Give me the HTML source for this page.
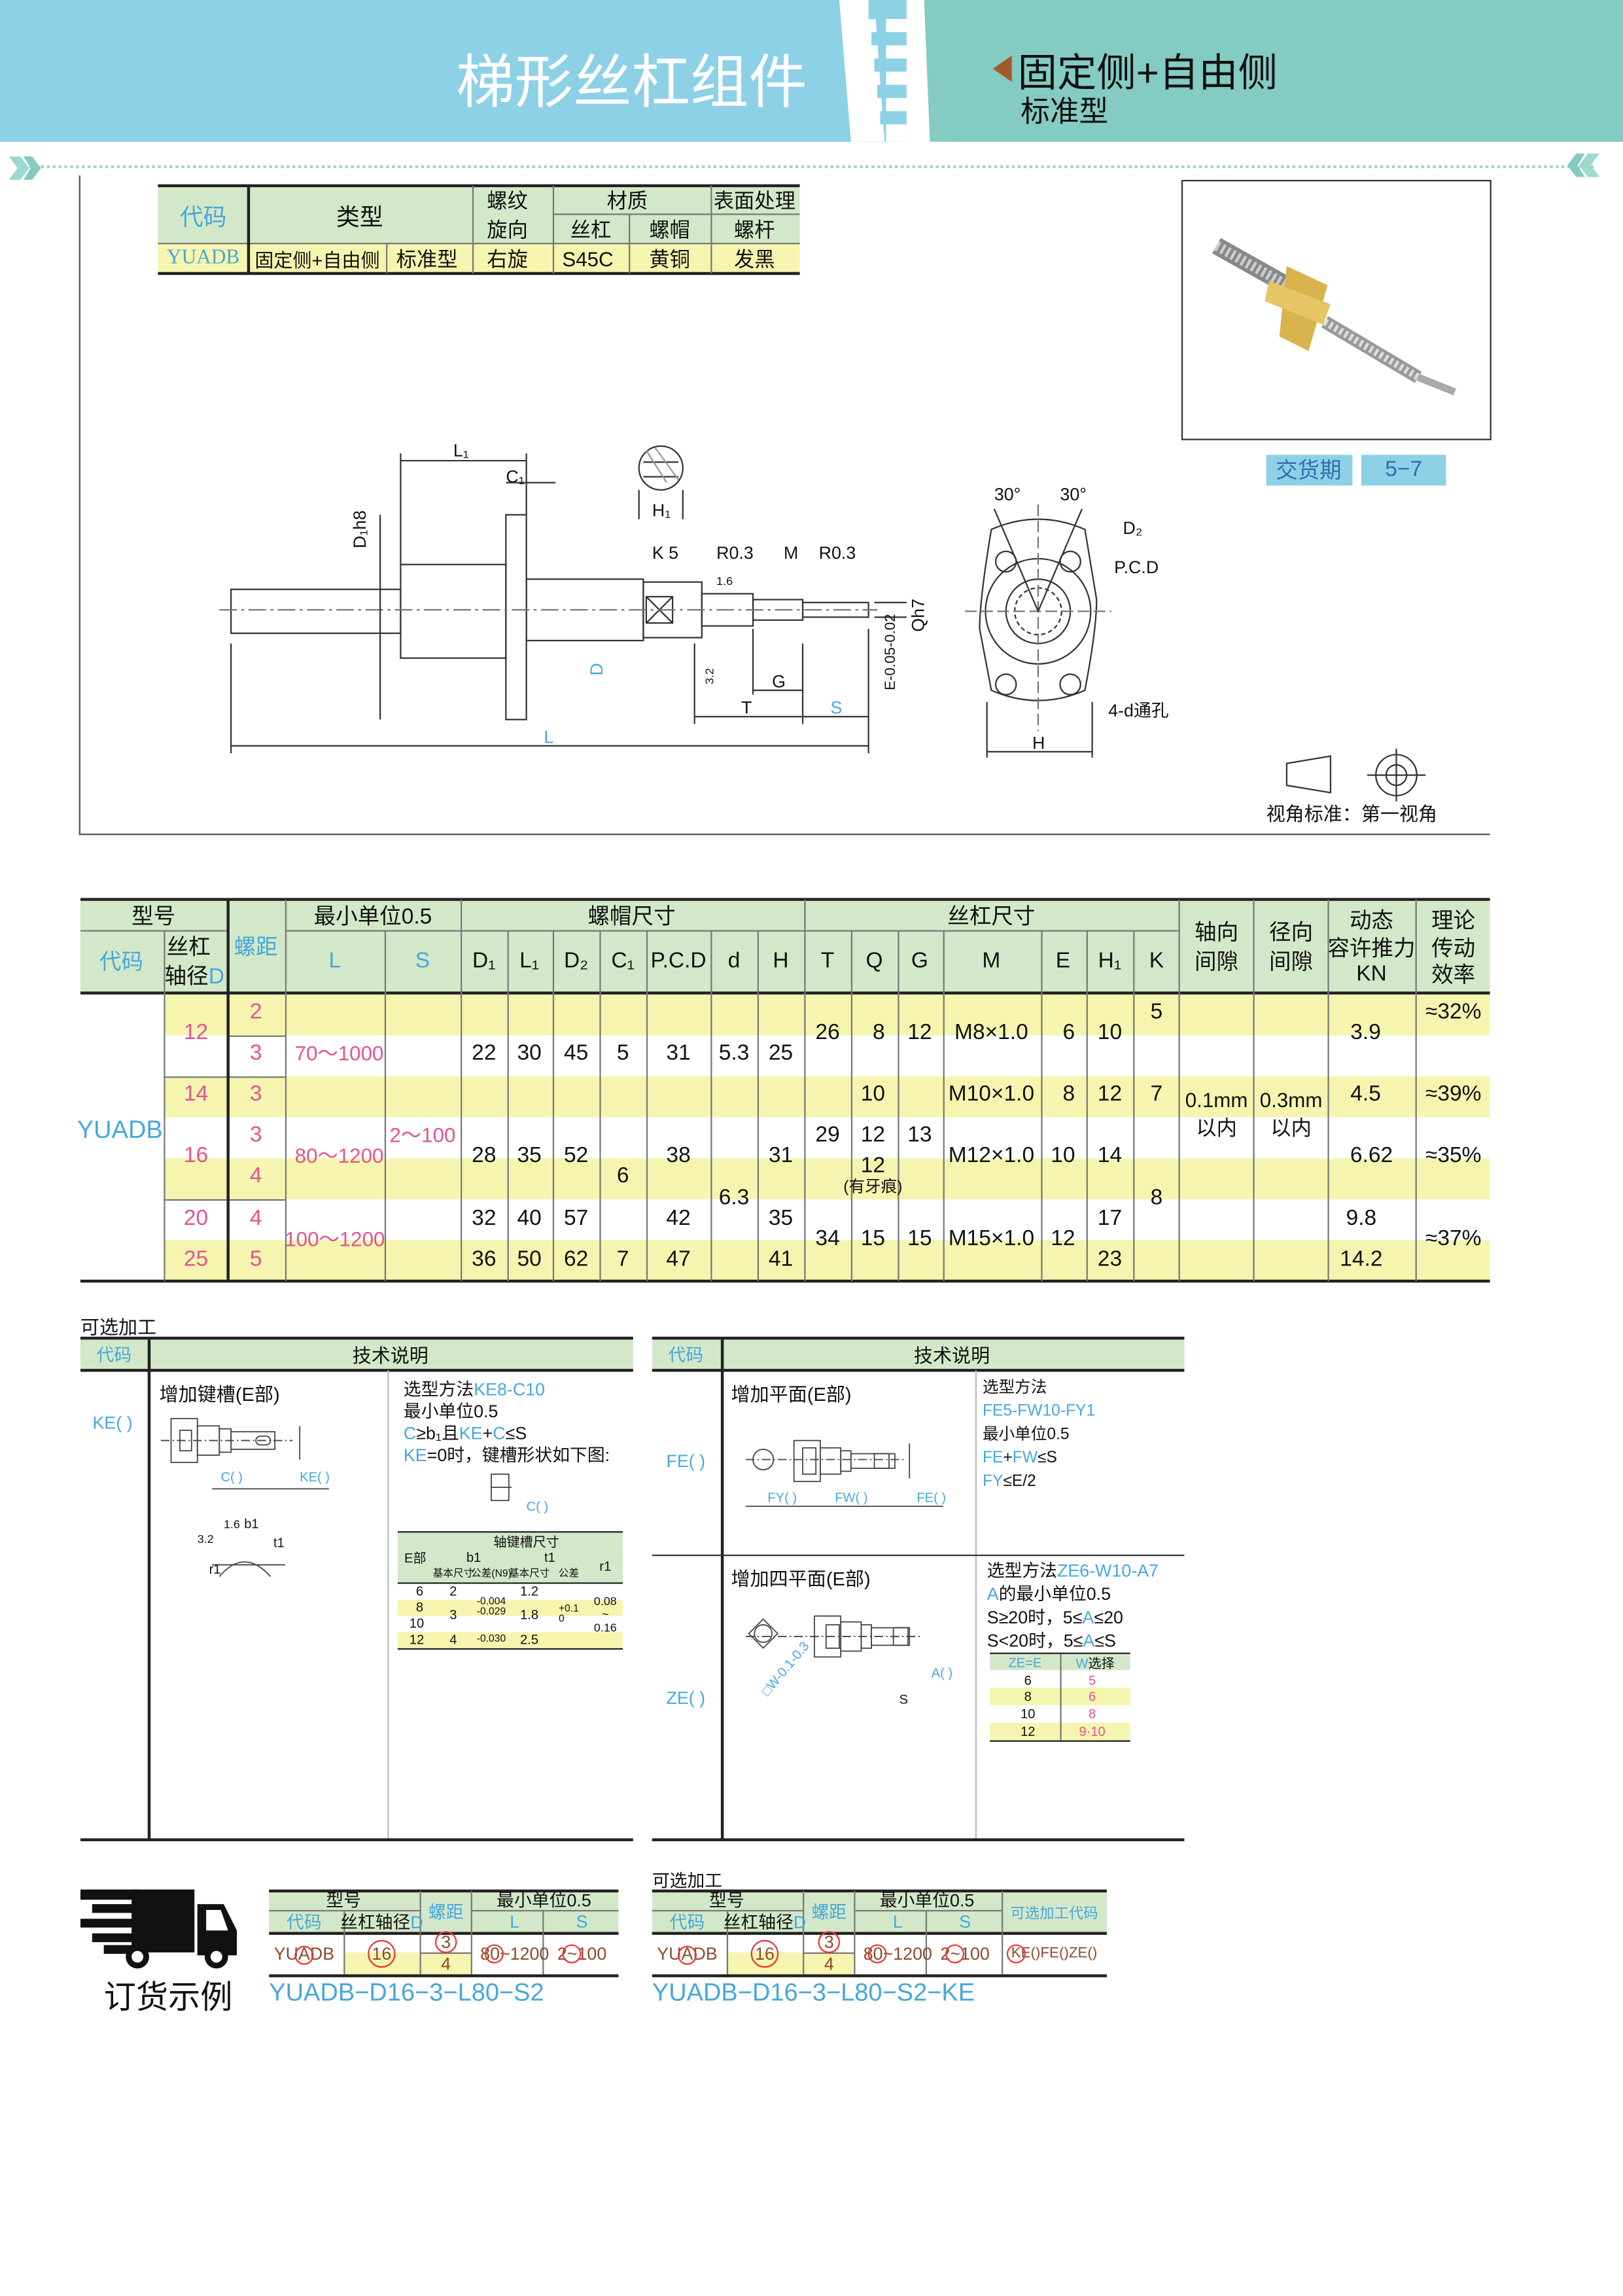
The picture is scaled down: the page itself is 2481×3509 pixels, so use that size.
<!DOCTYPE html>
<html><head><meta charset="utf-8"><style>
html,body{margin:0;padding:0;background:#fff;}
body{width:2481px;height:3508px;overflow:hidden;position:relative;}
#w{position:absolute;left:0;top:0;width:1110px;height:1570px;transform:scale(2.2351);transform-origin:0 0;font-family:"Liberation Sans","Noto Sans CJK SC",sans-serif;color:#111;}
.a{position:absolute;white-space:nowrap;}
.c{position:absolute;white-space:nowrap;transform:translate(-50%,-50%);}
.b{color:#46a7dc;}
.p{color:#e4538f;}
.r{position:absolute;}
.g{background:#d3e8c9;}
.y{background:#f5f5b0;}
.hl{position:absolute;height:0;border-top:1px solid #777;}
.vl{position:absolute;width:0;border-left:1px solid #777;}
.hk{position:absolute;height:0;border-top:2px solid #222;}
.vk{position:absolute;width:0;border-left:2px solid #222;}
</style></head><body><div id="w">

<!-- header -->
<div class="r" style="left:0;top:0;width:620px;height:97px;background:#8dd1e7"></div>
<div class="r" style="left:648px;top:0;width:462px;height:97px;background:#84cbc1"></div>
<svg class="r" style="left:570px;top:0" width="85" height="97">
<polygon points="4,0 28,0 35,97 12,97" fill="#fff"/>
<g fill="#fff"><rect x="50" y="0" width="30" height="97"/></g>
<g fill="#8dd1e7"><rect x="24" y="0" width="26" height="13"/><rect x="26" y="22" width="24" height="9"/><rect x="28" y="40" width="22" height="9"/><rect x="30" y="58" width="20" height="9"/><rect x="32" y="76" width="18" height="9"/></g>
<g fill="#fff"><rect x="36" y="13" width="14" height="9"/><rect x="36" y="31" width="14" height="9"/><rect x="36" y="49" width="14" height="9"/><rect x="36" y="67" width="14" height="9"/><rect x="36" y="85" width="14" height="12"/></g>
<g fill="#84cbc1"><polygon points="62,0 85,0 85,97 66,97"/></g>
</svg>
<div class="a" style="left:312px;top:24px;font-size:40px;color:#fff;letter-spacing:0px">梯形丝杠组件</div>
<svg class="r" style="left:677px;top:38px" width="16" height="20"><polygon points="15,0 15,18 2,9" fill="#a35a28"/></svg>
<div class="a" style="left:696px;top:28px;font-size:27px;color:#111">固定侧+自由侧</div>
<div class="a" style="left:698px;top:60px;font-size:20px;color:#111">标准型</div>
<div class="r" style="left:20px;top:113px;width:1070px;border-top:2px dotted #9fd8cc"></div>
<svg class="r" style="left:4px;top:106px" width="26" height="18"><polygon points="2,1 10,1 16,9 10,17 2,17 8,9" fill="#9fd8cc"/><polygon points="12,1 18,1 24,9 18,17 12,17 17,9" fill="#84cbc1"/></svg>
<svg class="r" style="left:1070px;top:104px" width="26" height="18"><polygon points="24,1 16,1 10,9 16,17 24,17 18,9" fill="#9fd8cc"/><polygon points="14,1 8,1 2,9 8,17 14,17 9,9" fill="#84cbc1"/></svg>

<!-- drawing frame -->
<div class="r" style="left:54px;top:120px;width:0;height:451px;border-left:1px solid #555"></div>
<div class="r" style="left:54px;top:570px;width:965px;border-top:1px solid #555"></div>
<div class="r" style="left:808px;top:123px;width:210px;height:176px;border:1px solid #333"></div>

<!-- top small table -->
<div class="r g" style="left:108px;top:127px;width:439px;height:40px"></div>
<div class="r y" style="left:108px;top:167px;width:439px;height:20px"></div>
<div class="hk" style="left:108px;top:126px;width:439px"></div>
<div class="hk" style="left:108px;top:186px;width:439px"></div>
<div class="hl" style="left:108px;top:166px;width:439px"></div>
<div class="hl" style="left:378px;top:146px;width:169px"></div>
<div class="vk" style="left:169px;top:127px;height:60px"></div>
<div class="vl" style="left:264px;top:167px;height:20px"></div>
<div class="vl" style="left:323px;top:127px;height:60px"></div>
<div class="vl" style="left:378px;top:127px;height:60px"></div>
<div class="vl" style="left:430px;top:147px;height:40px"></div>
<div class="vl" style="left:486px;top:127px;height:60px"></div>
<div class="c b" style="left:139px;top:147px;font-size:16px">代码</div>
<div class="c" style="left:246px;top:147px;font-size:16px">类型</div>
<div class="c" style="left:347px;top:137px;font-size:14px">螺纹</div>
<div class="c" style="left:347px;top:157px;font-size:14px">旋向</div>
<div class="c" style="left:429px;top:137px;font-size:14px">材质</div>
<div class="c" style="left:404px;top:157px;font-size:14px">丝杠</div>
<div class="c" style="left:458px;top:157px;font-size:14px">螺帽</div>
<div class="c" style="left:516px;top:137px;font-size:14px">表面处理</div>
<div class="c" style="left:516px;top:157px;font-size:14px">螺杆</div>
<div class="c b" style="left:139px;top:177px;font-size:14px;font-family:'Liberation Serif',serif">YUADB</div>
<div class="c" style="left:217px;top:177px;font-size:13px">固定侧+自由侧</div>
<div class="c" style="left:292px;top:177px;font-size:14px">标准型</div>
<div class="c" style="left:347px;top:177px;font-size:14px">右旋</div>
<div class="c" style="left:402px;top:177px;font-size:14px">S45C</div>
<div class="c" style="left:458px;top:177px;font-size:14px">黄铜</div>
<div class="c" style="left:516px;top:177px;font-size:14px">发黑</div>

<!-- product image -->
<svg class="r" style="left:820px;top:150px" width="190" height="130">
<line x1="12" y1="18" x2="60" y2="45" stroke="#888" stroke-width="12"/>
<line x1="12" y1="18" x2="60" y2="45" stroke="#ccc" stroke-width="7" stroke-dasharray="2 2"/>
<polygon points="60,32 88,45 75,90 55,80" fill="#d8b24a"/>
<polygon points="48,42 90,58 85,72 45,56" fill="#e6c565"/>
<line x1="86" y1="70" x2="150" y2="108" stroke="#999" stroke-width="9"/>
<line x1="86" y1="70" x2="150" y2="108" stroke="#ddd" stroke-width="5" stroke-dasharray="2 2"/>
<line x1="150" y1="108" x2="175" y2="118" stroke="#aaa" stroke-width="5"/>
</svg>
<div class="r" style="left:866px;top:311px;width:59px;height:21px;background:#8dd1e7"></div>
<div class="r" style="left:931px;top:311px;width:58px;height:21px;background:#8dd1e7"></div>
<div class="c" style="left:895px;top:321px;font-size:15px;color:#2f6fb0">交货期</div>
<div class="c" style="left:960px;top:321px;font-size:15px;color:#2f6fb0">5−7</div>

<!-- main drawing -->
<svg class="r" style="left:150px;top:290px" width="860" height="280" font-family="Liberation Sans" font-size="12" fill="none" stroke="#333" stroke-width="1">
<rect x="8" y="113" width="116" height="30"/>
<rect x="124" y="96" width="72" height="64"/>
<rect x="196" y="62" width="14" height="140"/>
<rect x="210" y="106" width="80" height="42"/>
<rect x="290" y="108" width="40" height="38"/>
<rect x="330" y="116" width="35" height="22"/>
<rect x="365" y="120" width="34" height="14"/>
<rect x="399" y="122" width="45" height="10"/>
<rect x="292" y="118" width="18" height="18"/><line x1="292" y1="118" x2="310" y2="136"/><line x1="310" y1="118" x2="292" y2="136"/>
<line x1="0" y1="127" x2="450" y2="127" stroke-dasharray="12 3 2 3" stroke="#777"/>
<line x1="124" y1="20" x2="124" y2="96"/><line x1="210" y1="20" x2="210" y2="62"/>
<line x1="124" y1="25" x2="210" y2="25"/><text x="160" y="22" fill="#111" stroke="none">L₁</text>
<line x1="196" y1="40" x2="230" y2="40"/><text x="196" y="40" fill="#111" stroke="none">C₁</text>
<line x1="110" y1="62" x2="110" y2="202"/><text x="100" y="85" fill="#111" stroke="none" transform="rotate(-90 100 85)">D₁h8</text>
<line x1="8" y1="150" x2="8" y2="225"/><line x1="444" y1="140" x2="444" y2="225"/>
<line x1="8" y1="220" x2="444" y2="220"/><text x="222" y="218" fill="#46a7dc" stroke="none">L</text>
<text x="262" y="172" fill="#46a7dc" stroke="none" transform="rotate(-90 262 172)">D</text>
<line x1="325" y1="150" x2="325" y2="205"/><line x1="399" y1="150" x2="399" y2="205"/>
<line x1="325" y1="200" x2="399" y2="200"/><text x="357" y="198" fill="#111" stroke="none">T</text>
<line x1="399" y1="200" x2="444" y2="200"/><text x="418" y="198" fill="#46a7dc" stroke="none">S</text>
<line x1="365" y1="140" x2="365" y2="185"/><line x1="365" y1="182" x2="399" y2="182"/><text x="378" y="180" fill="#111" stroke="none">G</text>
<text x="296" y="92" fill="#111" stroke="none">K  5</text><text x="340" y="92" fill="#111" stroke="none">R0.3</text>
<text x="386" y="92" fill="#111" stroke="none">M</text><text x="410" y="92" fill="#111" stroke="none">R0.3</text>
<text x="340" y="110" fill="#111" stroke="none" font-size="8">1.6</text>
<text x="338" y="178" fill="#111" stroke="none" font-size="8" transform="rotate(-90 338 178)">3.2</text>
<line x1="448" y1="122" x2="470" y2="122"/><line x1="448" y1="132" x2="470" y2="132"/>
<text x="482" y="142" fill="#111" stroke="none" transform="rotate(-90 482 142)">Qh7</text>
<text x="462" y="182" fill="#111" stroke="none" font-size="10" transform="rotate(-90 462 182)">E-0.05-0.02</text>
<circle cx="302" cy="30" r="15"/><line x1="290" y1="26" x2="314" y2="26"/><line x1="290" y1="36" x2="314" y2="36"/>
<line x1="292" y1="18" x2="306" y2="40" stroke="#999"/><line x1="298" y1="16" x2="314" y2="38" stroke="#999"/>
<line x1="287" y1="45" x2="287" y2="65"/><line x1="317" y1="45" x2="317" y2="65"/><text x="296" y="63" fill="#111" stroke="none">H₁</text>
<path d="M528,72 Q560,58 592,72 L600,120 Q600,140 592,182 Q560,196 528,182 L520,140 Q520,120 528,72Z"/>
<circle cx="560" cy="128" r="36"/><circle cx="560" cy="128" r="22"/><circle cx="560" cy="128" r="16" stroke-dasharray="3 2"/>
<circle cx="538" cy="94" r="7"/><circle cx="582" cy="94" r="7"/><circle cx="538" cy="178" r="7"/><circle cx="582" cy="178" r="7"/>
<line x1="510" y1="128" x2="610" y2="128" stroke-dasharray="8 3" stroke="#777"/><line x1="560" y1="55" x2="560" y2="210" stroke-dasharray="8 3" stroke="#777"/>
<line x1="560" y1="128" x2="530" y2="58"/><line x1="560" y1="128" x2="590" y2="58"/>
<text x="530" y="52" fill="#111" stroke="none">30°</text><text x="575" y="52" fill="#111" stroke="none">30°</text>
<text x="618" y="75" fill="#111" stroke="none">D₂</text><text x="612" y="102" fill="#111" stroke="none">P.C.D</text>
<text x="608" y="200" fill="#111" stroke="none">4-d通孔</text>
<line x1="525" y1="190" x2="525" y2="228"/><line x1="597" y1="190" x2="597" y2="228"/><line x1="525" y1="224" x2="597" y2="224"/><text x="556" y="222" fill="#111" stroke="none">H</text>
<polygon points="730,232 760,227 760,252 730,247"/>
<circle cx="805" cy="240" r="14"/><circle cx="805" cy="240" r="7"/><line x1="785" y1="240" x2="825" y2="240"/><line x1="805" y1="222" x2="805" y2="258"/>
</svg>
<div class="a" style="left:866px;top:546px;font-size:13px">视角标准：第一视角</div>

<!-- main table -->
<div class="r g" style="left:55px;top:615px;width:964px;height:65px"></div>
<div class="r y" style="left:112px;top:680px;width:907px;height:28px"></div>
<div class="r y" style="left:112px;top:736px;width:907px;height:28px"></div>
<div class="r y" style="left:112px;top:792px;width:907px;height:28px"></div>
<div class="r y" style="left:112px;top:848px;width:907px;height:28px"></div>
<div class="hk" style="left:55px;top:614px;width:964px"></div>
<div class="hk" style="left:55px;top:678px;width:964px"></div>
<div class="hk" style="left:55px;top:875px;width:964px"></div>
<div class="hl" style="left:55px;top:636px;width:100px"></div>
<div class="hl" style="left:195px;top:636px;width:611px"></div>
<div class="hl" style="left:112px;top:736px;width:83px"></div>
<div class="hl" style="left:112px;top:820px;width:83px"></div>
<div class="hl" style="left:155px;top:708px;width:40px"></div>
<div class="vl" style="left:112px;top:636px;height:240px"></div>
<div class="vk" style="left:155px;top:615px;height:261px"></div>
<div class="vl" style="left:195px;top:615px;height:261px"></div>
<div class="vl" style="left:263px;top:636px;height:240px"></div>
<div class="vl" style="left:315px;top:615px;height:261px"></div>
<div class="vl" style="left:347px;top:636px;height:240px"></div>
<div class="vl" style="left:378px;top:636px;height:240px"></div>
<div class="vl" style="left:410px;top:636px;height:240px"></div>
<div class="vl" style="left:442px;top:636px;height:240px"></div>
<div class="vl" style="left:486px;top:636px;height:240px"></div>
<div class="vl" style="left:518px;top:636px;height:240px"></div>
<div class="vl" style="left:550px;top:615px;height:261px"></div>
<div class="vl" style="left:582px;top:636px;height:240px"></div>
<div class="vl" style="left:614px;top:636px;height:240px"></div>
<div class="vl" style="left:645px;top:636px;height:240px"></div>
<div class="vl" style="left:712px;top:636px;height:240px"></div>
<div class="vl" style="left:743px;top:636px;height:240px"></div>
<div class="vl" style="left:775px;top:636px;height:240px"></div>
<div class="vl" style="left:806px;top:615px;height:261px"></div>
<div class="vl" style="left:857px;top:615px;height:261px"></div>
<div class="vl" style="left:908px;top:615px;height:261px"></div>
<div class="vl" style="left:968px;top:615px;height:261px"></div>

<div style="font-size:15px">
<div class="c" style="left:105px;top:626px">型号</div>
<div class="c b" style="left:83px;top:657px">代码</div>
<div class="c" style="left:129px;top:647px">丝杠</div>
<div class="c" style="left:133px;top:667px">轴径<span class="b">D</span></div>
<div class="c b" style="left:175px;top:647px">螺距</div>
<div class="c" style="left:255px;top:626px">最小单位0.5</div>
<div class="c b" style="left:229px;top:657px">L</div>
<div class="c b" style="left:289px;top:657px">S</div>
<div class="c" style="left:432px;top:626px">螺帽尺寸</div>
<div class="c" style="left:678px;top:626px">丝杠尺寸</div>
<div class="c" style="left:331px;top:657px">D₁</div><div class="c" style="left:362px;top:657px">L₁</div>
<div class="c" style="left:394px;top:657px">D₂</div><div class="c" style="left:426px;top:657px">C₁</div>
<div class="c" style="left:464px;top:657px">P.C.D</div><div class="c" style="left:502px;top:657px">d</div>
<div class="c" style="left:534px;top:657px">H</div><div class="c" style="left:566px;top:657px">T</div>
<div class="c" style="left:598px;top:657px">Q</div><div class="c" style="left:629px;top:657px">G</div>
<div class="c" style="left:678px;top:657px">M</div><div class="c" style="left:727px;top:657px">E</div>
<div class="c" style="left:759px;top:657px">H₁</div><div class="c" style="left:791px;top:657px">K</div>
<div class="c" style="left:832px;top:637px">轴向</div><div class="c" style="left:832px;top:657px">间隙</div>
<div class="c" style="left:883px;top:637px">径向</div><div class="c" style="left:883px;top:657px">间隙</div>
<div class="c" style="left:938px;top:629px">动态</div><div class="c" style="left:938px;top:648px">容许推力</div><div class="c" style="left:938px;top:666px">KN</div>
<div class="c" style="left:994px;top:629px">理论</div><div class="c" style="left:994px;top:648px">传动</div><div class="c" style="left:994px;top:666px">效率</div>

<div class="c b" style="left:82px;top:773px;font-size:17px">YUADB</div>
<div class="c p" style="left:134px;top:706px">12</div><div class="c p" style="left:134px;top:748px">14</div>
<div class="c p" style="left:134px;top:790px">16</div><div class="c p" style="left:134px;top:833px">20</div><div class="c p" style="left:134px;top:861px">25</div>
<div class="c p" style="left:175px;top:692px">2</div><div class="c p" style="left:175px;top:720px">3</div><div class="c p" style="left:175px;top:748px">3</div>
<div class="c p" style="left:175px;top:776px">3</div><div class="c p" style="left:175px;top:804px">4</div><div class="c p" style="left:175px;top:833px">4</div><div class="c p" style="left:175px;top:861px">5</div>
<div class="c p" style="left:232px;top:720px;font-size:14px">70～1000</div>
<div class="c p" style="left:232px;top:790px;font-size:14px">80～1200</div>
<div class="c p" style="left:229px;top:847px;font-size:14px">100～1200</div>
<div class="c p" style="left:289px;top:776px;font-size:14px">2～100</div>
<div class="c" style="left:331px;top:720px">22</div><div class="c" style="left:331px;top:790px">28</div><div class="c" style="left:331px;top:833px">32</div><div class="c" style="left:331px;top:861px">36</div>
<div class="c" style="left:362px;top:720px">30</div><div class="c" style="left:362px;top:790px">35</div><div class="c" style="left:362px;top:833px">40</div><div class="c" style="left:362px;top:861px">50</div>
<div class="c" style="left:394px;top:720px">45</div><div class="c" style="left:394px;top:790px">52</div><div class="c" style="left:394px;top:833px">57</div><div class="c" style="left:394px;top:861px">62</div>
<div class="c" style="left:426px;top:720px">5</div><div class="c" style="left:426px;top:804px">6</div><div class="c" style="left:426px;top:861px">7</div>
<div class="c" style="left:464px;top:720px">31</div><div class="c" style="left:464px;top:790px">38</div><div class="c" style="left:464px;top:833px">42</div><div class="c" style="left:464px;top:861px">47</div>
<div class="c" style="left:502px;top:720px">5.3</div><div class="c" style="left:502px;top:819px">6.3</div>
<div class="c" style="left:534px;top:720px">25</div><div class="c" style="left:534px;top:790px">31</div><div class="c" style="left:534px;top:833px">35</div><div class="c" style="left:534px;top:861px">41</div>
<div class="c" style="left:566px;top:706px">26</div><div class="c" style="left:566px;top:776px">29</div><div class="c" style="left:566px;top:847px">34</div>
<div class="c" style="left:601px;top:706px">8</div><div class="c" style="left:597px;top:748px">10</div><div class="c" style="left:597px;top:776px">12</div>
<div class="c" style="left:597px;top:797px">12</div><div class="c" style="left:597px;top:811px;font-size:11px">(有牙痕)</div>
<div class="c" style="left:597px;top:847px">15</div>
<div class="c" style="left:629px;top:706px">12</div><div class="c" style="left:629px;top:776px">13</div><div class="c" style="left:629px;top:847px">15</div>
<div class="c" style="left:678px;top:706px">M8×1.0</div><div class="c" style="left:678px;top:748px">M10×1.0</div>
<div class="c" style="left:678px;top:790px">M12×1.0</div><div class="c" style="left:678px;top:847px">M15×1.0</div>
<div class="c" style="left:731px;top:706px">6</div><div class="c" style="left:731px;top:748px">8</div><div class="c" style="left:727px;top:790px">10</div><div class="c" style="left:727px;top:847px">12</div>
<div class="c" style="left:759px;top:706px">10</div><div class="c" style="left:759px;top:748px">12</div><div class="c" style="left:759px;top:790px">14</div><div class="c" style="left:759px;top:833px">17</div><div class="c" style="left:759px;top:861px">23</div>
<div class="c" style="left:791px;top:692px">5</div><div class="c" style="left:791px;top:748px">7</div><div class="c" style="left:791px;top:819px">8</div>
<div class="c" style="left:832px;top:752px;font-size:14px">0.1mm</div><div class="c" style="left:832px;top:771px;font-size:14px">以内</div>
<div class="c" style="left:883px;top:752px;font-size:14px">0.3mm</div><div class="c" style="left:883px;top:771px;font-size:14px">以内</div>
<div class="c" style="left:934px;top:706px">3.9</div><div class="c" style="left:934px;top:748px">4.5</div><div class="c" style="left:938px;top:790px">6.62</div>
<div class="c" style="left:931px;top:833px">9.8</div><div class="c" style="left:931px;top:861px">14.2</div>
<div class="c" style="left:994px;top:692px">≈32%</div><div class="c" style="left:994px;top:748px">≈39%</div>
<div class="c" style="left:994px;top:790px">≈35%</div><div class="c" style="left:994px;top:847px">≈37%</div>
</div>

<!-- optional processing -->
<div class="a" style="left:55px;top:897px;font-size:13px">可选加工</div>
<div class="r g" style="left:55px;top:915px;width:378px;height:21px"></div>
<div class="r g" style="left:446px;top:915px;width:364px;height:21px"></div>
<div class="hk" style="left:55px;top:914px;width:378px"></div><div class="hk" style="left:55px;top:936px;width:378px"></div>
<div class="hk" style="left:446px;top:914px;width:364px"></div><div class="hk" style="left:446px;top:936px;width:364px"></div>
<div class="hk" style="left:55px;top:1257px;width:378px"></div><div class="hk" style="left:446px;top:1257px;width:364px"></div>
<div class="vk" style="left:101px;top:915px;height:343px"></div>
<div class="vl" style="left:265px;top:937px;height:320px;border-color:#bbb"></div>
<div class="vk" style="left:493px;top:915px;height:343px"></div>
<div class="vl" style="left:667px;top:937px;height:320px;border-color:#bbb"></div>
<div class="hl" style="left:446px;top:1063px;width:364px;border-color:#333"></div>
<div class="c b" style="left:78px;top:926px;font-size:12px">代码</div>
<div class="c" style="left:267px;top:926px;font-size:13px">技术说明</div>
<div class="c b" style="left:469px;top:926px;font-size:12px">代码</div>
<div class="c" style="left:651px;top:926px;font-size:13px">技术说明</div>
<div class="c b" style="left:77px;top:973px;font-size:12px">KE( )</div>
<div class="c b" style="left:469px;top:999px;font-size:12px">FE( )</div>
<div class="c b" style="left:469px;top:1161px;font-size:12px">ZE( )</div>
<div class="a" style="left:109px;top:943px;font-size:13px">增加键槽(E部)</div>
<div class="a" style="left:276px;top:943px;font-size:12px;line-height:15px">选型方法<span class="b">KE8-C10</span><br>最小单位0.5<br><span class="b">C</span>≥b₁且<span class="b">KE</span>+<span class="b">C</span>≤S<br><span class="b">KE</span>=0时，键槽形状如下图:</div>
<div class="a" style="left:500px;top:943px;font-size:13px">增加平面(E部)</div>
<div class="a" style="left:672px;top:941px;font-size:11px;line-height:16px">选型方法<br><span class="b">FE5-FW10-FY1</span><br>最小单位0.5<br><span class="b">FE</span>+<span class="b">FW</span>≤S<br><span class="b">FY</span>≤E/2</div>
<div class="a" style="left:500px;top:1069px;font-size:13px">增加四平面(E部)</div>
<div class="a" style="left:675px;top:1066px;font-size:12px;line-height:16px">选型方法<span class="b">ZE6-W10-A7</span><br><span class="b">A</span>的最小单位0.5<br>S≥20时，5≤<span class="b">A</span>≤20<br>S&lt;20时，5≤<span class="b">A</span>≤S</div>
<svg class="r" style="left:105px;top:960px" width="160" height="130" fill="none" stroke="#444" stroke-width="0.8" font-size="9" font-family="Liberation Sans">
<rect x="12" y="10" width="18" height="30"/><rect x="30" y="15" width="15" height="20"/><rect x="45" y="17" width="8" height="16"/><rect x="53" y="19" width="30" height="12"/>
<rect x="18" y="18" width="8" height="14"/><rect x="70" y="22" width="10" height="6" rx="3"/>
<line x1="5" y1="25" x2="95" y2="25" stroke-dasharray="6 2 1 2"/><line x1="100" y1="15" x2="100" y2="38"/>
<text x="46" y="53" fill="#46a7dc" stroke="none">C( )</text><text x="100" y="53" fill="#46a7dc" stroke="none">KE( )</text>
<line x1="40" y1="58" x2="120" y2="58"/>
<path d="M45,118 Q62,98 80,118" /><line x1="40" y1="110" x2="90" y2="110"/>
<text x="30" y="95" fill="#111" stroke="none" font-size="8">3.2</text><text x="48" y="85" fill="#111" stroke="none" font-size="8">1.6</text>
<text x="62" y="85" fill="#111" stroke="none">b1</text><text x="82" y="98" fill="#111" stroke="none">t1</text><text x="38" y="116" fill="#111" stroke="none">r1</text>
</svg>
<svg class="r" style="left:330px;top:1005px" width="60" height="35" fill="none" stroke="#444" stroke-width="0.8" font-size="9"><rect x="6" y="3" width="12" height="18"/><line x1="6" y1="12" x2="20" y2="12"/><text x="30" y="28" fill="#46a7dc" stroke="none">C( )</text></svg>
<div class="r g" style="left:272px;top:1048px;width:154px;height:34px"></div>
<div class="r y" style="left:272px;top:1094px;width:154px;height:11px"></div>
<div class="r y" style="left:272px;top:1116px;width:154px;height:11px"></div>
<div class="hk" style="left:272px;top:1047px;width:154px;border-width:1px"></div>
<div class="hk" style="left:272px;top:1082px;width:154px;border-width:1px"></div>
<div class="hk" style="left:272px;top:1127px;width:154px;border-width:1px"></div>
<div style="font-size:9px">
<div class="c" style="left:360px;top:1054px">轴键槽尺寸</div><div class="c" style="left:284px;top:1065px">E部</div>
<div class="c" style="left:324px;top:1065px">b1</div><div class="c" style="left:376px;top:1065px">t1</div><div class="c" style="left:414px;top:1071px">r1</div>
<div class="c" style="left:310px;top:1076px;font-size:7px">基本尺寸</div><div class="c" style="left:336px;top:1076px;font-size:7px">公差(N9)</div>
<div class="c" style="left:362px;top:1076px;font-size:7px">基本尺寸</div><div class="c" style="left:389px;top:1076px;font-size:7px">公差</div>
<div class="c" style="left:287px;top:1088px">6</div><div class="c" style="left:287px;top:1099px">8</div><div class="c" style="left:285px;top:1110px">10</div><div class="c" style="left:285px;top:1121px">12</div>
<div class="c" style="left:310px;top:1088px">2</div><div class="c" style="left:310px;top:1104px">3</div><div class="c" style="left:310px;top:1121px">4</div>
<div class="c" style="left:336px;top:1099px;font-size:7px">-0.004<br>-0.029</div><div class="c" style="left:336px;top:1121px;font-size:7px">-0.030</div>
<div class="c" style="left:362px;top:1088px">1.2</div><div class="c" style="left:362px;top:1104px">1.8</div><div class="c" style="left:362px;top:1121px">2.5</div>
<div class="c" style="left:389px;top:1104px;font-size:7px">+0.1<br>0</div>
<div class="c" style="left:414px;top:1104px;font-size:8px;text-align:center">0.08<br>~<br>0.16</div>
</div>
<svg class="r" style="left:505px;top:975px" width="160" height="190" fill="none" stroke="#444" stroke-width="0.8" font-size="9" font-family="Liberation Sans">
<circle cx="17" cy="23" r="7"/><rect x="38" y="10" width="18" height="28"/><rect x="44" y="15" width="9" height="18"/><rect x="56" y="15" width="14" height="18"/>
<rect x="70" y="17" width="7" height="14"/><rect x="77" y="19" width="30" height="10"/><rect x="93" y="19" width="10" height="10"/>
<line x1="5" y1="23" x2="115" y2="23" stroke-dasharray="6 2 1 2"/><line x1="117" y1="12" x2="117" y2="36"/>
<text x="20" y="52" fill="#46a7dc" stroke="none">FY( )</text><text x="66" y="52" fill="#46a7dc" stroke="none">FW( )</text><text x="122" y="52" fill="#46a7dc" stroke="none">FE( )</text>
<line x1="5" y1="55" x2="140" y2="55"/>
<rect x="52" y="130" width="18" height="28"/><rect x="60" y="136" width="9" height="16"/><rect x="70" y="134" width="14" height="20"/><rect x="84" y="136" width="7" height="16"/><rect x="91" y="138" width="26" height="12"/>
<rect x="106" y="138" width="10" height="12"/><rect x="10" y="135" width="14" height="14" transform="rotate(45 17 142)"/><circle cx="17" cy="142" r="6"/>
<line x1="5" y1="144" x2="125" y2="144" stroke-dasharray="6 2 1 2"/>
<text x="132" y="172" fill="#46a7dc" stroke="none">A( )</text><text x="110" y="190" fill="#111" stroke="none">S</text>
<text x="20" y="185" fill="#46a7dc" stroke="none" transform="rotate(-50 20 185)">□W-0.1-0.3</text>
</svg>
<div class="r g" style="left:677px;top:1131px;width:96px;height:11px"></div>
<div class="r y" style="left:677px;top:1154px;width:96px;height:12px"></div>
<div class="r y" style="left:677px;top:1178px;width:96px;height:12px"></div>
<div class="hk" style="left:677px;top:1130px;width:96px;border-width:1px"></div>
<div class="hk" style="left:677px;top:1190px;width:96px;border-width:1px"></div>
<div class="vl" style="left:725px;top:1131px;height:59px"></div>
<div style="font-size:9px">
<div class="c b" style="left:701px;top:1137px">ZE=E</div><div class="c" style="left:749px;top:1137px"><span class="b">W</span>选择</div>
<div class="c" style="left:703px;top:1149px">6</div><div class="c" style="left:703px;top:1160px">8</div><div class="c" style="left:703px;top:1172px">10</div><div class="c" style="left:703px;top:1184px">12</div>
<div class="c p" style="left:747px;top:1149px">5</div><div class="c p" style="left:747px;top:1160px">6</div><div class="c p" style="left:747px;top:1172px">8</div><div class="c p" style="left:747px;top:1184px">9·10</div>
</div>

<!-- order example -->
<svg class="r" style="left:55px;top:1290px" width="115" height="60">
<g fill="#111"><rect x="0" y="2" width="40" height="7"/><rect x="8" y="12" width="32" height="6"/><rect x="0" y="22" width="40" height="6"/><rect x="8" y="32" width="32" height="6"/><rect x="16" y="40" width="24" height="6"/>
<polygon points="35,2 78,2 78,45 35,45"/><polygon points="80,12 98,12 107,30 107,47 80,47"/></g>
<polygon points="86,16 96,16 101,30 86,30" fill="#fff"/>
<circle cx="39" cy="48" r="8" fill="#111"/><circle cx="39" cy="48" r="4" fill="#fff"/>
<circle cx="93" cy="48" r="8" fill="#111"/><circle cx="93" cy="48" r="4" fill="#fff"/>
</svg>
<div class="c" style="left:115px;top:1364px;font-size:22px">订货示例</div>

<div class="r g" style="left:184px;top:1293px;width:239px;height:28px"></div>
<div class="r y" style="left:235px;top:1335px;width:87px;height:15px"></div>
<div class="hk" style="left:184px;top:1292px;width:239px"></div><div class="hk" style="left:184px;top:1321px;width:239px"></div><div class="hk" style="left:184px;top:1350px;width:239px"></div>
<div class="hl" style="left:184px;top:1306px;width:103px"></div><div class="hl" style="left:322px;top:1306px;width:101px"></div><div class="hl" style="left:287px;top:1335px;width:35px"></div>
<div class="vl" style="left:235px;top:1306px;height:44px"></div><div class="vl" style="left:287px;top:1293px;height:57px"></div>
<div class="vl" style="left:322px;top:1293px;height:57px"></div><div class="vl" style="left:371px;top:1306px;height:44px"></div>
<div style="font-size:12px">
<div class="c" style="left:235px;top:1299px">型号</div><div class="c b" style="left:208px;top:1314px">代码</div><div class="c" style="left:261px;top:1314px">丝杠轴径<span class="b">D</span></div>
<div class="c b" style="left:305px;top:1307px">螺距</div><div class="c" style="left:372px;top:1299px">最小单位0.5</div>
<div class="c b" style="left:352px;top:1314px">L</div><div class="c b" style="left:398px;top:1314px">S</div>
<div class="c" style="left:208px;top:1336px;color:#8b4a2a">YUADB</div><div class="c" style="left:261px;top:1336px;color:#8b4a2a">16</div>
<div class="c" style="left:305px;top:1328px;color:#8b4a2a">3</div><div class="c" style="left:305px;top:1343px;color:#8b4a2a">4</div>
<div class="c" style="left:352px;top:1336px;color:#8b4a2a">80~1200</div><div class="c" style="left:398px;top:1336px;color:#8b4a2a">2~100</div>
</div>
<svg class="r" style="left:184px;top:1320px" width="240" height="32" fill="none" stroke="#e33" stroke-width="1"><circle cx="24" cy="17" r="6"/><circle cx="77" cy="16" r="9"/><circle cx="121" cy="8" r="7"/><circle cx="154" cy="16" r="6"/><circle cx="207" cy="16" r="6"/></svg>
<div class="a b" style="left:184px;top:1353px;font-size:17px">YUADB−D16−3−L80−S2</div>

<div class="a" style="left:446px;top:1277px;font-size:12px">可选加工</div>
<div class="r g" style="left:446px;top:1293px;width:311px;height:28px"></div>
<div class="r y" style="left:497px;top:1335px;width:87px;height:15px"></div>
<div class="hk" style="left:446px;top:1292px;width:311px"></div><div class="hk" style="left:446px;top:1321px;width:311px"></div><div class="hk" style="left:446px;top:1350px;width:311px"></div>
<div class="hl" style="left:446px;top:1306px;width:103px"></div><div class="hl" style="left:584px;top:1306px;width:101px"></div><div class="hl" style="left:549px;top:1335px;width:35px"></div>
<div class="vl" style="left:497px;top:1306px;height:44px"></div><div class="vl" style="left:549px;top:1293px;height:57px"></div>
<div class="vl" style="left:584px;top:1293px;height:57px"></div><div class="vl" style="left:633px;top:1306px;height:44px"></div><div class="vl" style="left:685px;top:1293px;height:57px"></div>
<div style="font-size:12px">
<div class="c" style="left:497px;top:1299px">型号</div><div class="c b" style="left:470px;top:1314px">代码</div><div class="c" style="left:523px;top:1314px">丝杠轴径<span class="b">D</span></div>
<div class="c b" style="left:567px;top:1307px">螺距</div><div class="c" style="left:634px;top:1299px">最小单位0.5</div>
<div class="c b" style="left:614px;top:1314px">L</div><div class="c b" style="left:660px;top:1314px">S</div>
<div class="c b" style="left:721px;top:1307px;font-size:10px">可选加工代码</div>
<div class="c" style="left:470px;top:1336px;color:#8b4a2a">YUADB</div><div class="c" style="left:523px;top:1336px;color:#8b4a2a">16</div>
<div class="c" style="left:567px;top:1328px;color:#8b4a2a">3</div><div class="c" style="left:567px;top:1343px;color:#8b4a2a">4</div>
<div class="c" style="left:614px;top:1336px;color:#8b4a2a">80~1200</div><div class="c" style="left:660px;top:1336px;color:#8b4a2a">2~100</div>
<div class="c" style="left:721px;top:1336px;color:#8b4a2a;font-size:10px">KE()FE()ZE()</div>
</div>
<svg class="r" style="left:446px;top:1320px" width="300" height="32" fill="none" stroke="#e33" stroke-width="1"><circle cx="24" cy="17" r="6"/><circle cx="77" cy="16" r="9"/><circle cx="121" cy="8" r="7"/><circle cx="154" cy="16" r="6"/><circle cx="207" cy="16" r="6"/><circle cx="249" cy="16" r="6"/></svg>
<div class="a b" style="left:446px;top:1353px;font-size:17px">YUADB−D16−3−L80−S2−KE</div>

</div></body></html>
